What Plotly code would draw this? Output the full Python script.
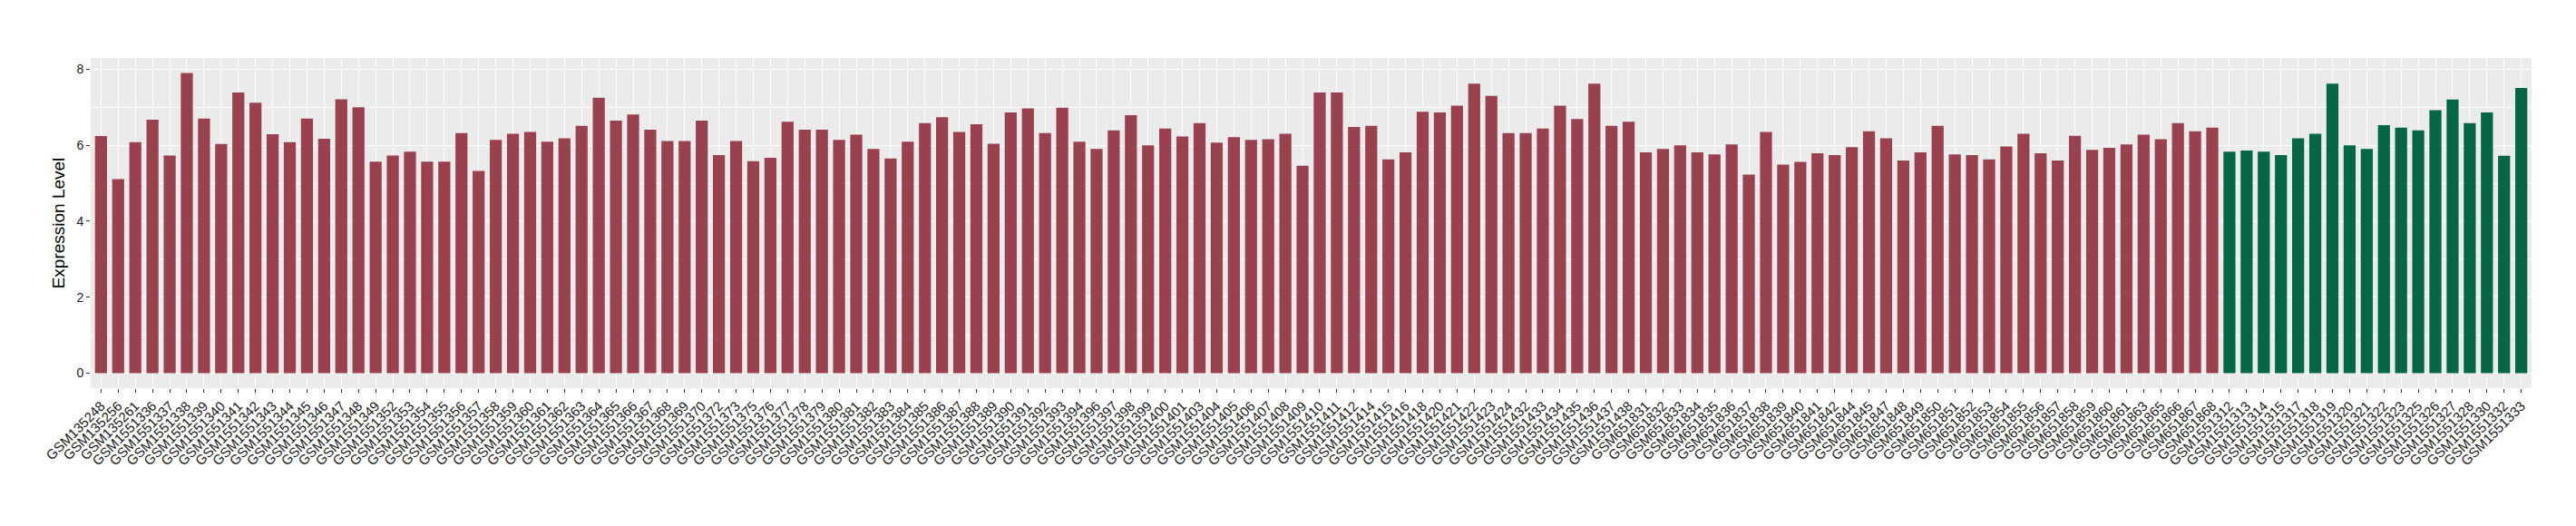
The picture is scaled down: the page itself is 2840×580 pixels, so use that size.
import plotly.graph_objects as go

group1_samples = [
    "GSM135248", "GSM135256", "GSM135261",
    "GSM1551336", "GSM1551337", "GSM1551338", "GSM1551339", "GSM1551340", "GSM1551341",
    "GSM1551342", "GSM1551343", "GSM1551344", "GSM1551345", "GSM1551346", "GSM1551347",
    "GSM1551348", "GSM1551349", "GSM1551352", "GSM1551353", "GSM1551354", "GSM1551355",
    "GSM1551356", "GSM1551357", "GSM1551358", "GSM1551359", "GSM1551360", "GSM1551361",
    "GSM1551362", "GSM1551363", "GSM1551364", "GSM1551365", "GSM1551366", "GSM1551367",
    "GSM1551368", "GSM1551369", "GSM1551370", "GSM1551372", "GSM1551373", "GSM1551375",
    "GSM1551376", "GSM1551377", "GSM1551378", "GSM1551379", "GSM1551380", "GSM1551381",
    "GSM1551382", "GSM1551383", "GSM1551384", "GSM1551385", "GSM1551386", "GSM1551387",
    "GSM1551388", "GSM1551389", "GSM1551390", "GSM1551391", "GSM1551392", "GSM1551393",
    "GSM1551394", "GSM1551396", "GSM1551397", "GSM1551398", "GSM1551399", "GSM1551400",
    "GSM1551401", "GSM1551403", "GSM1551404", "GSM1551405", "GSM1551406", "GSM1551407",
    "GSM1551408", "GSM1551409", "GSM1551410", "GSM1551411", "GSM1551412", "GSM1551414",
    "GSM1551415", "GSM1551416", "GSM1551418", "GSM1551420", "GSM1551421", "GSM1551422",
    "GSM1551423", "GSM1551424", "GSM1551432", "GSM1551433", "GSM1551434", "GSM1551435",
    "GSM1551436", "GSM1551437", "GSM1551438",
    "GSM651831", "GSM651832", "GSM651833", "GSM651834", "GSM651835", "GSM651836",
    "GSM651837", "GSM651838", "GSM651839", "GSM651840", "GSM651841", "GSM651842",
    "GSM651844", "GSM651845", "GSM651847", "GSM651848", "GSM651849", "GSM651850",
    "GSM651851", "GSM651852", "GSM651853", "GSM651854", "GSM651855", "GSM651856",
    "GSM651857", "GSM651858", "GSM651859", "GSM651860", "GSM651861", "GSM651863",
    "GSM651865", "GSM651866", "GSM651867", "GSM651868",
]
group1_values = [
    6.24, 5.11, 6.08, 6.67, 5.73, 7.90, 6.70, 6.03, 7.39, 7.12, 6.29, 6.08, 6.70, 6.17, 7.21,
    7.00, 5.57, 5.73, 5.83, 5.57, 5.57, 6.32, 5.32, 6.14, 6.30, 6.35, 6.09, 6.18, 6.51, 7.25,
    6.65, 6.81, 6.41, 6.11, 6.11, 6.65, 5.74, 6.11, 5.58, 5.67, 6.62, 6.41, 6.41, 6.14, 6.28,
    5.90, 5.65, 6.09, 6.58, 6.74, 6.35, 6.55, 6.04, 6.86, 6.97, 6.32, 6.99, 6.09, 5.90, 6.39,
    6.79, 6.00, 6.44, 6.23, 6.58, 6.07, 6.21, 6.14, 6.16, 6.30, 5.46, 7.39, 7.39, 6.48, 6.51,
    5.63, 5.81, 6.88, 6.86, 7.04, 7.62, 7.30, 6.32, 6.32, 6.44, 7.04, 6.69, 7.62, 6.51, 6.62,
    5.81, 5.90, 6.00, 5.81, 5.76, 6.02, 5.23, 6.35, 5.49, 5.56, 5.79, 5.74, 5.95, 6.37, 6.18,
    5.60, 5.81, 6.51, 5.76, 5.74, 5.63, 5.97, 6.30, 5.79, 5.60, 6.25, 5.88, 5.93, 6.02, 6.28,
    6.16, 6.58, 6.37, 6.46,
]

group2_samples = [
    "GSM1551312", "GSM1551313", "GSM1551314", "GSM1551315", "GSM1551317", "GSM1551318",
    "GSM1551319", "GSM1551320", "GSM1551321", "GSM1551322", "GSM1551323", "GSM1551325",
    "GSM1551326", "GSM1551327", "GSM1551328", "GSM1551330", "GSM1551332", "GSM1551333",
]
group2_values = [
    5.83, 5.86, 5.83, 5.74, 6.18, 6.30, 7.62, 6.00, 5.90, 6.53, 6.46, 6.39,
    6.92, 7.20, 6.58, 6.86, 5.72, 7.51,
]

y_ticks = [0, 2, 4, 6, 8]

color1 = "#9A4150"
color2 = "#036745"

all_samples = group1_samples + group2_samples
all_values = group1_values + group2_values
ymax = max(all_values)
n = len(all_samples)

fig = go.Figure()
fig.add_trace(go.Bar(x=group1_samples, y=group1_values, marker=dict(color=color1, line=dict(width=0)),
                     width=0.7, showlegend=False))
fig.add_trace(go.Bar(x=group2_samples, y=group2_values, marker=dict(color=color2, line=dict(width=0)),
                     width=0.7, showlegend=False))

fig.update_layout(
    width=2840, height=580,
    margin=dict(l=92, r=57, t=56, b=160),
    paper_bgcolor="white",
    plot_bgcolor="#EBEBEB",
    font=dict(family="Liberation Sans, Arial, sans-serif", color="#1A1A1A"),
    bargap=0.3,
)
fig.update_xaxes(
    type="category",
    categoryorder="array", categoryarray=all_samples,
    tickmode="array", tickvals=all_samples, ticktext=all_samples,
    tickangle=-45,
    tickfont=dict(size=15, color="#1A1A1A"),
    range=[-0.6, n - 1 + 0.6],
    showgrid=True, gridcolor="white", gridwidth=1.4,
    ticks="outside", ticklen=4, tickwidth=1, tickcolor="#333333",
    showline=False, zeroline=False, automargin=False,
)
fig.update_yaxes(
    range=[-0.05 * ymax, ymax * 1.05],
    tickmode="array", tickvals=y_ticks,
    tickfont=dict(size=14, color="#1A1A1A"),
    showgrid=True, gridcolor="white", gridwidth=1.4,
    minor=dict(dtick=1, tick0=1, showgrid=True, gridcolor="white", gridwidth=0.7),
    ticks="outside", ticklen=4, tickwidth=1, tickcolor="#333333",
    zeroline=False, showline=False,
    title=dict(text="Expression Level", font=dict(size=19, color="#000000"), standoff=7),
    automargin=False,
)

fig.write_html("out.html")
